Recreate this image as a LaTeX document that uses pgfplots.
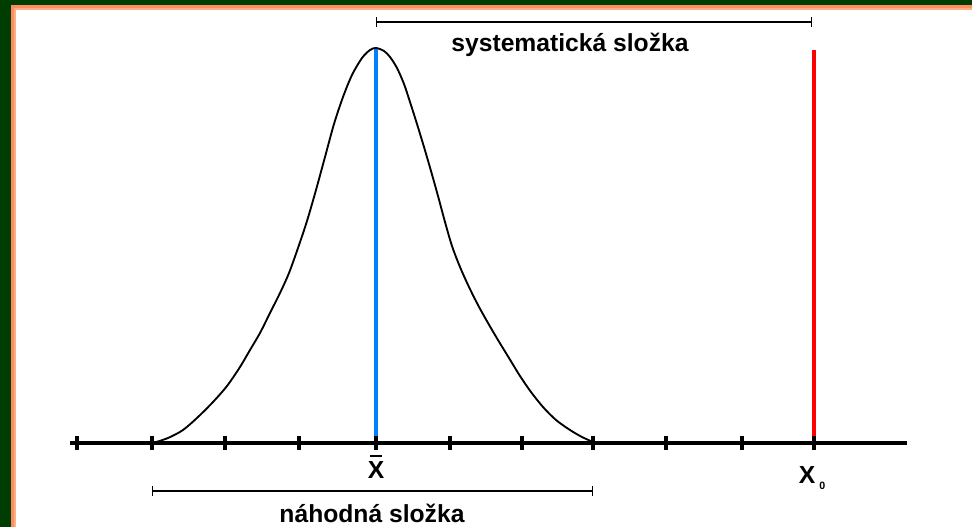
\documentclass[border=0pt]{standalone}
\usepackage{pgfplots}
\pgfplotsset{compat=1.18}
\usepackage{fontspec}
\setmainfont{Liberation Sans}
\definecolor{bggreen}{RGB}{0,61,0}
\definecolor{frorange}{RGB}{255,140,90}
\definecolor{frlight}{RGB}{255,175,135}
\definecolor{meanblue}{RGB}{0,128,255}
\begin{document}
\begin{tikzpicture}
\begin{axis}[
  scale only axis, width=729pt, height=395.25pt,
  xmin=0, xmax=972, ymin=0, ymax=527, y dir=reverse,
  hide axis, clip=false,
]
% frame
\fill[bggreen] (axis cs:0,0) rectangle (axis cs:972,527);
\fill[frorange] (axis cs:11,5) rectangle (axis cs:972,527);
\fill[frlight] (axis cs:14,8) rectangle (axis cs:972,527);
\fill[white] (axis cs:16,10) rectangle (axis cs:972,527);
% number line
\addplot[black, line width=2.4pt] coordinates {(70,443) (907,443)};
\addplot[black, only marks, mark=|, mark size=5.5pt, mark options={line width=2.6pt}] coordinates {
(77,443) (152,443) (225,443) (299,443) (376,443) (450,443) (522,443) (593,443) (666,443) (742,443) (814,443)};
% vertical lines
\addplot[meanblue, line width=2.3pt] coordinates {(376,48) (376,443)};
\addplot[red, line width=2.3pt] coordinates {(814,50) (814,443)};
% bell curve
\addplot[black, line width=1.4pt, smooth, tension=0.5] coordinates {
(153,443) (168,438) (183,430) (198,417) (213,402) (227,386) (240,367) (250,350)
(260,333) (270,313) (280,293) (289,273) (298,248) (307,221) (316,190) (325,157)
(334,124) (343,97) (352,75) (362,58) (370,50) (376,48)
(384,51) (390,57) (397,68) (404,84) (410,102) (417,124) (424,147) (431,171)
(438,196) (445,222) (452,246) (460,267) (469,287) (478,305) (488,323) (498,340)
(509,358) (520,376) (531,392) (543,407) (556,420) (570,430) (582,437) (593,442)};
% brackets
\addplot[black, line width=1pt, |-|] coordinates {(376,22) (812,22)};
\addplot[black, line width=1pt, |-|] coordinates {(152,491) (593,491)};
% labels
\node[font=\fontsize{18.5}{22}\selectfont\bfseries] at (axis cs:570,45) {systematická složka};
\node[font=\fontsize{18.5}{22}\selectfont\bfseries] at (axis cs:372,513) {náhodná složka};
\node[inner sep=0pt] at (axis cs:376,456) {\rule{9pt}{1.4pt}};
\node[font=\fontsize{18.5}{22}\selectfont\bfseries] at (axis cs:376,470) {X};
\node[font=\fontsize{18.5}{22}\selectfont\bfseries] at (axis cs:812,478) {X\,\raisebox{-0.5ex}{\fontsize{8}{9}\selectfont 0}};
\end{axis}
\end{tikzpicture}
\end{document}
